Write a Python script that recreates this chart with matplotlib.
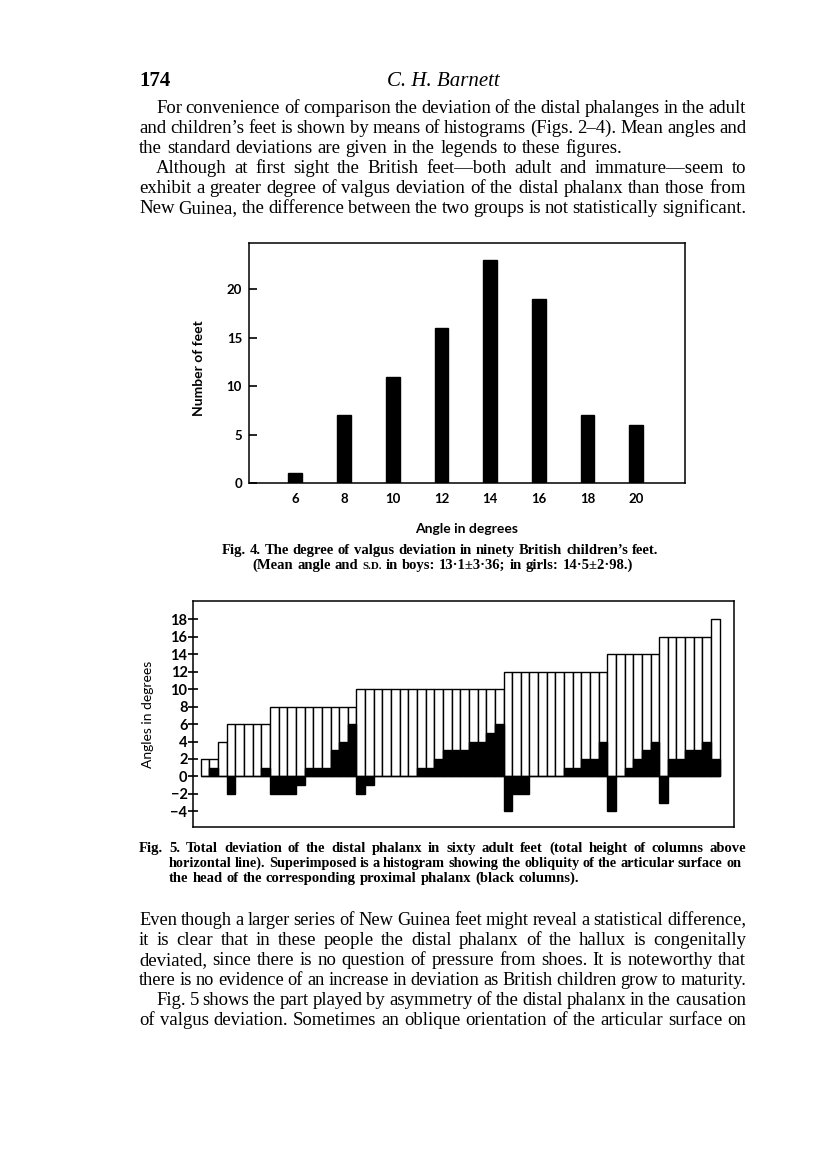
import matplotlib
matplotlib.use("Agg")
import matplotlib.pyplot as plt

W, H = 816, 1151
SERIF = ["Liberation Serif", "DejaVu Serif"]
SANS = ["Lato", "DejaVu Sans"]

# Fig. 4 data: children's feet
angle_bins = [6, 8, 10, 12, 14, 16, 18, 20]
feet_counts = [1, 7, 11, 16, 23, 19, 7, 6]

# Fig. 5 data: sixty adult feet, total deviation and proximal obliquity
total_dev = [2, 2, 4, 6, 6, 6, 6, 6,
             8, 8, 8, 8, 8, 8, 8, 8, 8, 8,
             10, 10, 10, 10, 10, 10, 10, 10, 10, 10, 10, 10, 10, 10, 10, 10, 10,
             12, 12, 12, 12, 12, 12, 12, 12, 12, 12, 12, 12,
             14, 14, 14, 14, 14, 14,
             16, 16, 16, 16, 16, 16,
             18]
proximal_dev = [0, 1, 0, -2, 0, 0, 0, 1,
                -2, -2, -2, -1, 1, 1, 1, 3, 4, 6,
                -2, -1, 0, 0, 0, 0, 0, 1, 1, 2, 3, 3, 3, 4, 4, 5, 6,
                -4, -2, -2, 0, 0, 0, 0, 1, 1, 2, 2, 4,
                -4, 0, 1, 2, 3, 4,
                -3, 2, 2, 3, 3, 4,
                2]
fig5_ticks = [-4, -2, 0, 2, 4, 6, 8, 10, 12, 14, 16, 18]

# page text
header_page = "174"
header_author = "C. H. Barnett"
para_top = [
    "For convenience of comparison the deviation of the distal phalanges in the adult",
    "and children\u2019s feet is shown by means of histograms (Figs. 2\u20134).  Mean angles and",
    "the standard deviations are given in the legends to these figures.",
    "Although at first sight the British feet\u2014both adult and immature\u2014seem to",
    "exhibit a greater degree of valgus deviation of the distal phalanx than those from",
    "New Guinea, the difference between the two groups is not statistically significant.",
]
cap4_line1 = "Fig. 4.  The degree of valgus deviation in ninety British children\u2019s feet."
cap4_line2 = ["(Mean", "angle", "and", ("S.D.", 0.75), "in", "boys:", "13\u00b71\u00b13\u00b736;",
              "in", "girls:", "14\u00b75\u00b12\u00b798.)"]
cap5 = [
    "Fig. 5. Total deviation of the distal phalanx in sixty adult feet (total height of columns above",
    "horizontal line). Superimposed is a histogram showing the obliquity of the articular surface on",
    "the head of the corresponding proximal phalanx (black columns).",
]
para_bottom = [
    "Even though a larger series of New Guinea feet might reveal a statistical difference,",
    "it is clear that in these people the distal phalanx of the hallux is congenitally",
    "deviated, since there is no question of pressure from shoes.  It is noteworthy that",
    "there is no evidence of an increase in deviation as British children grow to maturity.",
    "Fig. 5 shows the part played by asymmetry of the distal phalanx in the causation",
    "of valgus deviation.  Sometimes an oblique orientation of the articular surface on",
]

fig = plt.figure(figsize=(W / 100, H / 100), dpi=100)
fig.patch.set_facecolor("white")
renderer = fig.canvas.get_renderer()


def measure(words, size, weight, style):
    arts, widths = [], []
    for w in words:
        txt, k = (w if isinstance(w, tuple) else (w, 1.0))
        t = fig.text(0, 0, txt, fontsize=size * k, family=SERIF,
                     weight=weight, style=style, ha="left", va="baseline")
        arts.append(t)
        widths.append(t.get_window_extent(renderer=renderer).width)
    return arts, widths


def place_words(words, x0, y, size, x1=None, center=None, weight="normal", style="normal"):
    # lays out one line word by word; justified when x1 is given
    if isinstance(words, str):
        words = words.split()
    while True:
        arts, widths = measure(words, size, weight, style)
        em = size * 100 / 72
        gap = 0.27 * em
        if x1 is None or len(arts) < 2:
            break
        gap = (x1 - x0 - sum(widths)) / (len(arts) - 1)
        if gap >= 0.17 * em:
            break
        for t in arts:
            t.remove()
        size *= 0.98
    if center is not None:
        x0 = center - (sum(widths) + gap * (len(arts) - 1)) / 2
    x = x0
    for t, w in zip(arts, widths):
        t.set_position((x / W, 1 - y / H))
        x += w + gap
    return x0


LEFT, RIGHT, INDENT = 139, 746, 17
BODY = 13.5
CAP = 10.5

# header
fig.text(LEFT / W, 1 - 86 / H, header_page, fontsize=15, family=SERIF, weight="bold",
         ha="left", va="baseline")
fig.text(443 / W, 1 - 86 / H, header_author, fontsize=15, family=SERIF, style="italic",
         ha="center", va="baseline")

# top paragraph
top_base = [113, 133, 153, 173, 193, 213]
for i, (line, yb) in enumerate(zip(para_top, top_base)):
    x0 = LEFT + INDENT if i in (0, 3) else LEFT
    place_words(line, x0, yb, BODY, x1=None if i == 2 else RIGHT)

# ---- Fig. 4 ----
ax4 = fig.add_axes([249 / W, 1 - 483 / H, (685 - 249) / W, (483 - 243) / H])
ax4.bar(angle_bins, feet_counts, width=0.56, color="black", edgecolor="black", linewidth=1)
ax4.set_xlim(4.1, 22)
ax4.set_ylim(0, 24.8)
ax4.set_xticks(angle_bins)
ax4.set_yticks([0, 5, 10, 15, 20])
ax4.tick_params(axis="x", length=0, pad=7)
ax4.tick_params(axis="y", direction="in", length=6, width=1.2, pad=5)
for lab in ax4.get_xticklabels() + ax4.get_yticklabels():
    lab.set_fontfamily(SANS)
    lab.set_fontweight("bold")
    lab.set_fontsize(9.5)
for sp in ax4.spines.values():
    sp.set_linewidth(1.1)
ax4.set_xlabel("Angle in degrees", fontsize=10, fontweight="bold", family=SANS)
ax4.set_ylabel("Number of feet", fontsize=10, fontweight="bold", family=SANS)
ax4.xaxis.set_label_coords(0.5, -0.165)
ax4.yaxis.set_label_coords(-0.10, 0.48)

# Fig. 4 caption
x_first = place_words(cap4_line1, 0, 554, CAP, center=440, weight="bold")
place_words(cap4_line2, x_first + 31, 569, CAP, weight="bold")

# ---- Fig. 5 ----
ax5 = fig.add_axes([193 / W, 1 - 827 / H, (734 - 193) / W, (827 - 601) / H])
idx = list(range(len(total_dev)))
ax5.bar(idx, total_dev, width=1, align="edge", color="white", edgecolor="black", linewidth=1.0)
ax5.bar(idx, proximal_dev, width=1, align="edge", color="black", edgecolor="black", linewidth=1.0)
ax5.set_xlim(-0.9, 61.65)
ax5.set_ylim(-5.79, 20.1)
ax5.set_xticks([])
ax5.set_yticks(fig5_ticks)
ax5.set_yticklabels([str(v).replace("-", "\u2212") for v in fig5_ticks])
ax5.tick_params(axis="y", direction="inout", length=7, width=1.2, pad=0.5)
for lab in ax5.get_yticklabels():
    lab.set_fontfamily(SANS)
    lab.set_fontweight("bold")
    lab.set_fontsize(10.5)
for sp in ax5.spines.values():
    sp.set_linewidth(1.1)
ax5.set_ylabel("Angles in degrees", fontsize=10, family=SANS)
ax5.yaxis.set_label_coords(-0.072, 0.5)

# Fig. 5 caption
cap5_base = [852, 867, 882]
place_words(cap5[0], LEFT, cap5_base[0], CAP, x1=RIGHT, weight="bold")
place_words(cap5[1], LEFT + 30, cap5_base[1], CAP, x1=RIGHT - 5, weight="bold")
place_words(cap5[2], LEFT + 30, cap5_base[2], CAP, weight="bold")

# bottom paragraph
bottom_base = [925, 945, 965, 985, 1005, 1025]
for i, (line, yb) in enumerate(zip(para_bottom, bottom_base)):
    x0 = LEFT + INDENT if i == 4 else LEFT
    place_words(line, x0, yb, BODY, x1=RIGHT)

fig.savefig("out.png", dpi=100, facecolor="white")
